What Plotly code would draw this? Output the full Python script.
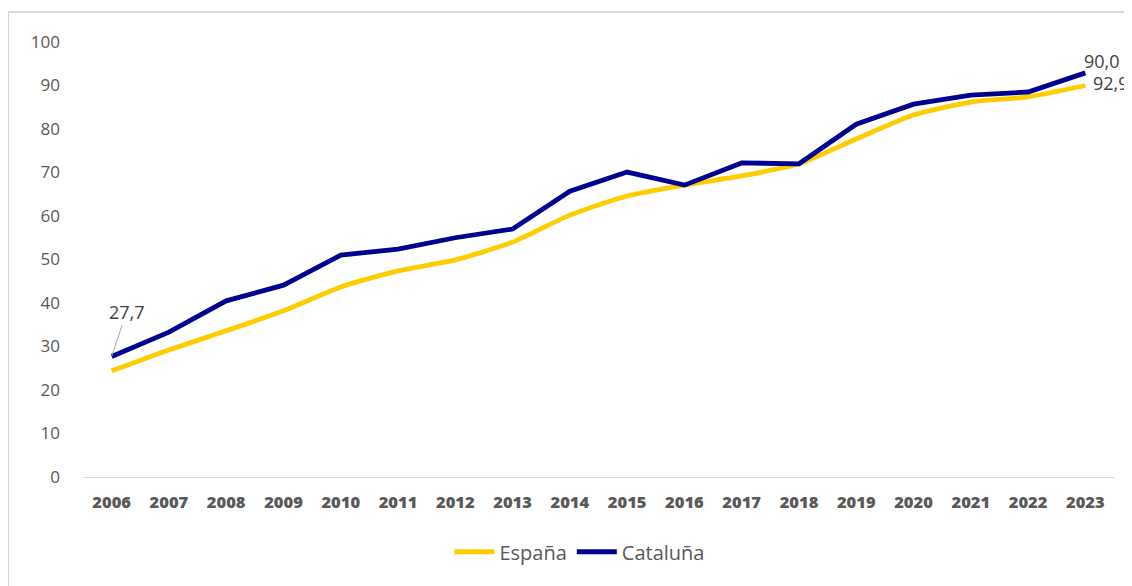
import plotly.graph_objects as go

years = [str(y) for y in range(2006, 2024)]
espana = [24.4, 29.2, 33.6, 38.2, 43.7, 47.4, 49.9, 54.0, 60.2, 64.6, 67.1, 69.2, 72.0, 77.7, 83.2, 86.2, 87.4, 90.0]
cataluna = [27.7, 33.3, 40.5, 44.1, 51.0, 52.4, 55.0, 57.0, 65.7, 70.1, 67.1, 72.2, 72.0, 81.1, 85.7, 87.8, 88.5, 92.9]
y_ticks = [0, 10, 20, 30, 40, 50, 60, 70, 80, 90, 100]

fig = go.Figure()
fig.add_trace(go.Scatter(x=years, y=espana, name="España", mode="lines",
                         line=dict(color="#FFCC00", width=4.8, shape="spline", smoothing=0.6)))
fig.add_trace(go.Scatter(x=years, y=cataluna, name="Cataluña", mode="lines",
                         line=dict(color="#000091", width=4.8)))

lab_font = dict(family="Open Sans", size=18, color="#404040")
last = len(years) - 1
fig.add_annotation(x=0, y=cataluna[0], text="27,7", showarrow=True, arrowhead=0,
                   arrowcolor="#a6a6a6", arrowwidth=1, ax=15, ay=-45, font=lab_font)
fig.add_annotation(x=last, y=cataluna[-1], text="90,0", showarrow=False,
                   xanchor="left", yanchor="middle", xshift=-3, yshift=12, font=lab_font)
fig.add_annotation(x=last, y=espana[-1], text="92,9", showarrow=False,
                   xanchor="left", yanchor="middle", xshift=6, yshift=3, font=lab_font)

# outer frame
fig.add_shape(type="rect", xref="paper", yref="paper", x0=-0.0727, x1=1.1, y0=-0.4, y1=1.069,
              line=dict(color="#d9d9d9", width=2), fillcolor="rgba(0,0,0,0)", layer="below")

fig.update_layout(
    width=1124, height=578,
    margin=dict(l=75, r=18, t=34, b=109),
    plot_bgcolor="white", paper_bgcolor="white",
    font=dict(family="Open Sans", color="#595959"),
    showlegend=True,
    legend=dict(orientation="h", x=0.482, xanchor="center", y=-0.127, yanchor="top",
                font=dict(size=20, color="#595959"), itemwidth=40, tracegroupgap=0),
)
fig.update_xaxes(type="category", showgrid=False, showline=True, linecolor="#d9d9d9", linewidth=1,
                 ticks="", tickfont=dict(size=16.5, color="#595959", weight=800),
                 ticklabelstandoff=10, range=[-0.5, 17.5])
fig.update_yaxes(range=[0, 100], tickvals=y_ticks, showgrid=False, zeroline=False, showline=False,
                 ticks="", tickfont=dict(size=17, color="#595959"), ticklabelstandoff=22)

fig.write_html("out.html")
